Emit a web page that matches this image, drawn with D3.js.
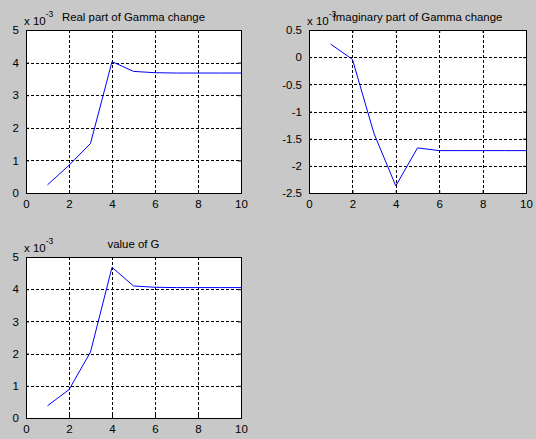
<!DOCTYPE html>
<html><head><meta charset="utf-8">
<script src="https://cdn.jsdelivr.net/npm/d3@7"></script>
<style>
html,body{margin:0;padding:0;background:#c8c8c8;}
svg{display:block;}
text{font-family:Arial,"Liberation Sans",sans-serif;fill:#000;}
</style></head><body>
<svg id="chart" width="536" height="439"></svg>
<script>
const xValues = [1, 2, 3, 4, 5, 6, 7, 8, 9, 10];
const realPart = [0.25, 0.85, 1.52, 4.03, 3.73, 3.69, 3.68, 3.68, 3.68, 3.68];
const imagPart = [0.24, -0.04, -1.41, -2.37, -1.67, -1.72, -1.72, -1.72, -1.72, -1.72];
const gValue = [0.38, 0.88, 2.05, 4.68, 4.1, 4.06, 4.05, 4.05, 4.05, 4.05];
const xTicks = [0, 2, 4, 6, 8, 10];
const yTicksReal = [0, 1, 2, 3, 4, 5];
const yTicksImag = [-2.5, -2, -1.5, -1, -0.5, 0, 0.5];
const yTicksG = [0, 1, 2, 3, 4, 5];
const titles = ["Real part of Gamma change", "Imaginary part of Gamma change", "value of G"];

const svg = d3.select("#chart");

const panels = [
  {box:{l:26, r:241, t:30, b:193}, data:realPart, yDom:[0,5], yTicks:yTicksReal, title:titles[0]},
  {box:{l:309, r:526, t:30, b:193}, data:imagPart, yDom:[-2.5,0.5], yTicks:yTicksImag, title:titles[1]},
  {box:{l:26, r:241, t:257, b:418}, data:gValue, yDom:[0,5], yTicks:yTicksG, title:titles[2]}
];

const FONT = "Arial, 'Liberation Sans', sans-serif";

panels.forEach(p => {
  const {l, r, t, b} = p.box;
  const x = d3.scaleLinear().domain([0, 10]).range([l, r]);
  const y = d3.scaleLinear().domain(p.yDom).range([b, t]);
  const g = svg.append("g");

  g.append("rect").attr("x", l).attr("y", t).attr("width", r - l).attr("height", b - t)
    .attr("fill", "#fff");

  // grid
  g.selectAll(".vg").data(xTicks.filter(d => d > 0 && d < 10)).enter().append("line")
    .attr("x1", d => Math.round(x(d)) + 0.5).attr("x2", d => Math.round(x(d)) + 0.5)
    .attr("y1", t).attr("y2", b)
    .attr("stroke", "#000").attr("stroke-width", 1).attr("stroke-dasharray", "3,2");
  g.selectAll(".hg").data(p.yTicks.filter(d => d > p.yDom[0] && d < p.yDom[1])).enter().append("line")
    .attr("x1", l).attr("x2", r)
    .attr("y1", d => Math.round(y(d)) + 0.5).attr("y2", d => Math.round(y(d)) + 0.5)
    .attr("stroke", "#000").attr("stroke-width", 1).attr("stroke-dasharray", "3,2");

  const fmt = d => String(d);
  const xAxisB = d3.axisBottom(x).tickValues(xTicks).tickSizeInner(-3).tickSizeOuter(0).tickPadding(7).tickFormat(fmt);
  const xAxisT = d3.axisTop(x).tickValues(xTicks).tickSizeInner(-3).tickSizeOuter(0).tickFormat("");
  const yAxisL = d3.axisLeft(y).tickValues(p.yTicks).tickSizeInner(-3).tickSizeOuter(0).tickPadding(7).tickFormat(fmt);
  const yAxisR = d3.axisRight(y).tickValues(p.yTicks).tickSizeInner(-3).tickSizeOuter(0).tickFormat("");

  const styleAxis = sel => {
    sel.select(".domain").remove();
    sel.selectAll("line").attr("stroke", "#000");
    sel.selectAll("text").attr("font-size", 11.5).attr("font-family", FONT).attr("fill", "#000");
  };
  g.append("g").attr("transform", `translate(0,${b})`).call(xAxisB).call(styleAxis);
  g.append("g").attr("transform", `translate(0,${t})`).call(xAxisT).call(styleAxis);
  g.append("g").attr("transform", `translate(${l},0)`).call(yAxisL).call(styleAxis);
  g.append("g").attr("transform", `translate(${r},0)`).call(yAxisR).call(styleAxis);

  g.append("rect").attr("x", l + 0.5).attr("y", t + 0.5).attr("width", r - l).attr("height", b - t)
    .attr("fill", "none").attr("stroke", "#000").attr("stroke-width", 1);

  // line
  const line = d3.line().x((d, i) => x(xValues[i])).y(d => y(d));
  g.append("path").datum(p.data).attr("d", line)
    .attr("fill", "none").attr("stroke", "#0000ff").attr("stroke-width", 1);

  // exponent label
  const ex = g.append("text").attr("x", l - 2).attr("y", t - 5).attr("font-size", 11.5);
  ex.append("tspan").text("x 10");
  ex.append("tspan").attr("dy", -8).attr("font-size", 8.5).text("-3");

  // title
  g.append("text").attr("x", (l + r) / 2).attr("y", t - 9).attr("text-anchor", "middle")
    .attr("font-size", 11.4).text(p.title);
});
</script>
</body></html>
